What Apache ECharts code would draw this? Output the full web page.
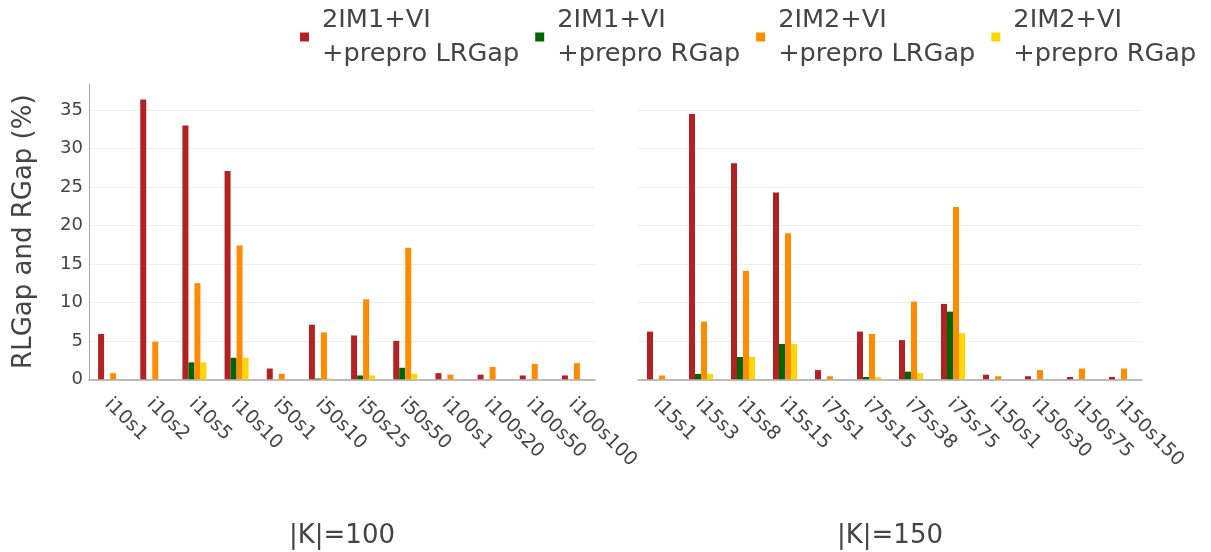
<!DOCTYPE html>
<html>
<head>
<meta charset="utf-8">
<script src="https://cdn.jsdelivr.net/npm/echarts@6/dist/echarts.min.js"></script>
<style>
  html, body { margin: 0; padding: 0; background: #fff; }
  #chart { width: 1211px; height: 552px; }
</style>
</head>
<body>
<div id="chart"></div>
<script>
// Instance groups for |K|=100 and |K|=150
const catsK100 = ['i10s1', 'i10s2', 'i10s5', 'i10s10', 'i50s1', 'i50s10', 'i50s25', 'i50s50', 'i100s1', 'i100s20', 'i100s50', 'i100s100'];
const catsK150 = ['i15s1', 'i15s3', 'i15s8', 'i15s15', 'i75s1', 'i75s15', 'i75s38', 'i75s75', 'i150s1', 'i150s30', 'i150s75', 'i150s150'];

const seriesNames = ['2IM1+VI\n+prepro LRGap', '2IM1+VI\n+prepro RGap', '2IM2+VI\n+prepro LRGap', '2IM2+VI\n+prepro RGap'];
const seriesColors = ['#B22222', '#006400', '#FF8C00', '#FFD700'];

// Gap values (%) for |K|=100
const im1LRGapK100 = [5.9, 36.4, 33.0, 27.1, 1.4, 7.1, 5.7, 5.0, 0.8, 0.6, 0.5, 0.5];
const im1RGapK100  = [0, 0, 2.2, 2.8, 0, 0.1, 0.5, 1.5, 0, 0, 0, 0];
const im2LRGapK100 = [0.8, 4.9, 12.5, 17.4, 0.7, 6.1, 10.4, 17.1, 0.6, 1.6, 2.0, 2.1];
const im2RGapK100  = [0, 0, 2.2, 2.8, 0, 0.1, 0.5, 0.7, 0, 0, 0, 0];

// Gap values (%) for |K|=150
const im1LRGapK150 = [6.2, 34.5, 28.1, 24.3, 1.2, 6.2, 5.1, 9.8, 0.6, 0.4, 0.3, 0.3];
const im1RGapK150  = [0, 0.7, 2.9, 4.6, 0, 0.3, 1.0, 8.8, 0, 0, 0, 0];
const im2LRGapK150 = [0.5, 7.5, 14.1, 19.0, 0.4, 5.9, 10.1, 22.4, 0.4, 1.2, 1.4, 1.4];
const im2RGapK150  = [0, 0.7, 2.9, 4.6, 0, 0.3, 0.8, 6.0, 0, 0, 0, 0];

const yTicks = { min: 0, max: 38.4, interval: 5 };

const FONT = 'DejaVu Sans';
const TXT = '#444';

const panelData = [
  [im1LRGapK100, im1RGapK100, im2LRGapK100, im2RGapK100],
  [im1LRGapK150, im1RGapK150, im2LRGapK150, im2RGapK150]
];

function xAxisFor(idx, cats, title) {
  return {
    type: 'category',
    gridIndex: idx,
    data: cats,
    axisTick: { show: false },
    axisLine: { show: true, lineStyle: { color: '#a8a8a8', width: 1.5 } },
    axisLabel: {
      rotate: -45,
      interval: 0,
      margin: 11,
      verticalAlign: 'top',
      padding: [0, 0, 0, 6],
      color: TXT,
      fontFamily: FONT,
      fontSize: 19,
      lineHeight: 19
    },
    name: title,
    nameLocation: 'middle',
    nameGap: 144,
    nameTextStyle: { color: TXT, fontFamily: FONT, fontSize: 26 }
  };
}

function yAxisFor(idx, showLabels) {
  return {
    type: 'value',
    gridIndex: idx,
    min: yTicks.min,
    max: yTicks.max,
    interval: yTicks.interval,
    axisTick: { show: false },
    axisLine: { show: showLabels, lineStyle: { color: '#a8a8a8', width: 1 } },
    axisLabel: {
      show: showLabels,
      showMaxLabel: false,
      margin: 6,
      color: TXT,
      fontFamily: FONT,
      fontSize: 18
    },
    splitLine: { show: true, showMaxLine: false, lineStyle: { color: '#eeeeee', width: 1 } },
    name: showLabels ? 'RLGap and RGap (%)' : '',
    nameLocation: 'middle',
    nameGap: 52,
    nameTextStyle: { color: TXT, fontFamily: FONT, fontSize: 26 }
  };
}

const series = [];
panelData.forEach((groups, p) => {
  groups.forEach((values, s) => {
    series.push({
      type: 'bar',
      name: seriesNames[s],
      xAxisIndex: p,
      yAxisIndex: p,
      data: values,
      barWidth: 6,
      barGap: '0%',
      itemStyle: { color: seriesColors[s] },
      emphasis: { disabled: true }
    });
  });
});

const chart = echarts.init(document.getElementById('chart'), null, { renderer: 'canvas' });
chart.setOption({
  animation: false,
  backgroundColor: '#ffffff',
  textStyle: { fontFamily: FONT },
  legend: {
    data: seriesNames,
    left: 300,
    top: 3,
    padding: 0,
    itemGap: 16,
    itemWidth: 9,
    itemHeight: 9,
    icon: 'rect',
    selectedMode: false,
    textStyle: {
      color: TXT,
      fontFamily: FONT,
      fontSize: 25.6,
      lineHeight: 34,
      padding: [0, 0, 0, 8]
    }
  },
  grid: [
    { left: 89, top: 84, width: 506, height: 295.3, outerBoundsMode: 'none' },
    { left: 638, top: 84, width: 504, height: 295.3, outerBoundsMode: 'none' }
  ],
  xAxis: [xAxisFor(0, catsK100, '|K|=100'), xAxisFor(1, catsK150, '|K|=150')],
  yAxis: [yAxisFor(0, true), yAxisFor(1, false)],
  series: series
});
</script>
</body>
</html>
